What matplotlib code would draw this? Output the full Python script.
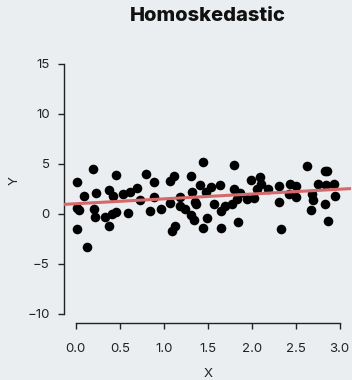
import numpy as np
import matplotlib.pyplot as plt

# points
x_vals = [0.015, 0.197, 0.462, 0.094, 0.227, 0.375, 0.417, 0.531, 0.614, 0.701,
          0.795, 0.894, 1.068, 1.117, 1.315, 1.413, 1.447, 0.008, 0.038, 0.205,
          0.216, 0.330, 0.406, 0.451, 0.372, 0.594, 0.011, 0.128, 0.727, 0.886,
          0.844, 0.966, 1.068, 1.099, 1.133, 1.182, 1.182, 1.247, 1.307, 1.349,
          1.326, 1.352, 1.372, 1.451, 1.497, 1.485, 1.799, 1.534, 1.636, 1.572,
          1.648, 1.651, 1.693, 1.780, 1.795, 1.864, 1.837, 1.849, 1.951, 2.023,
          1.997, 2.091, 2.102, 2.065, 2.185, 2.307, 2.307, 2.338, 2.440, 2.508,
          2.424, 2.508, 2.633, 2.690, 2.701, 2.670, 2.753, 2.841, 2.935, 2.830,
          2.860, 2.830, 2.943, 2.871]
y_vals = [3.18, 4.49, 3.89, 1.75, 2.12, 2.42, 1.75, 1.95, 2.18, 2.62,
          3.96, 3.22, 3.32, 3.76, 3.79, 2.92, 5.13, 0.57, 0.41, 0.51,
          -0.33, -0.33, 0.01, 0.21, -1.27, 0.07, -1.57, -3.34, 1.42, 1.68,
          0.27, 0.51, 1.07, -1.74, -1.27, 1.68, 0.81, 0.51, -0.16, -0.66,
          2.15, 1.17, 1.01, -1.40, -0.43, 2.18, 4.83, 2.68, 2.88, 0.97,
          -1.44, 0.31, 0.81, 1.01, 2.52, 2.12, 1.52, -0.79, 1.52, 1.55,
          3.42, 3.68, 3.02, 2.52, 2.52, 2.78, 1.14, -1.54, 2.95, 2.78,
          2.02, 1.68, 4.79, 1.95, 1.35, 0.34, 2.98, 2.92, 3.02, 4.29,
          4.26, 1.01, 1.78, -0.76]

# fitted line
intercept = 1.0
slope = 0.485

x_ticks = [0.0, 0.5, 1.0, 1.5, 2.0, 2.5, 3.0]
y_ticks = [-10, -5, 0, 5, 10, 15]

bg = '#ebeef0'
plt.rcParams['font.family'] = ['Inter', 'DejaVu Sans']

fig = plt.figure(figsize=(3.52, 3.80), dpi=100, facecolor=bg)
ax = fig.add_axes([64 / 352, 1 - 323 / 380, 287 / 352, 269 / 380])
ax.set_facecolor(bg)

ax.scatter(x_vals, y_vals, s=48, color='black', linewidths=0, zorder=3)

xlim = (-0.135, 3.13)
xs = np.array(xlim)
ax.plot(xs, intercept + slope * xs, color='#d4686a', lw=2.2, zorder=4)

ax.set_xlim(*xlim)
ax.set_ylim(-10.95, 16.0)
ax.set_xticks(x_ticks)
ax.set_xticklabels([f'{t:.1f}' for t in x_ticks])
ax.set_yticks(y_ticks)

for s in ['top', 'right']:
    ax.spines[s].set_visible(False)
ax.spines['left'].set_bounds(-10, 15)
ax.spines['bottom'].set_bounds(0, 3)
for s in ['left', 'bottom']:
    ax.spines[s].set_linewidth(1.0)
    ax.spines[s].set_color('#222222')

ax.tick_params(axis='both', direction='out', length=4.3, width=1.0,
               color='#222222', labelsize=9.5, labelcolor='#222222')
ax.tick_params(axis='x', pad=10)
ax.tick_params(axis='y', pad=6)

fig.text(208 / 352, 1 - 16 / 380, 'Homoskedastic', ha='center', va='center',
         fontsize=14.5, fontweight='heavy', color='#111111')
fig.text(15 / 352, 1 - 181 / 380, 'Y', ha='center', va='center', rotation=90,
         fontsize=9.5, color='#222222')
fig.text(208 / 352, 1 - 374 / 380, 'X', ha='center', va='center',
         fontsize=9.5, color='#222222')

fig.savefig('out.png', dpi=100, facecolor=bg)
